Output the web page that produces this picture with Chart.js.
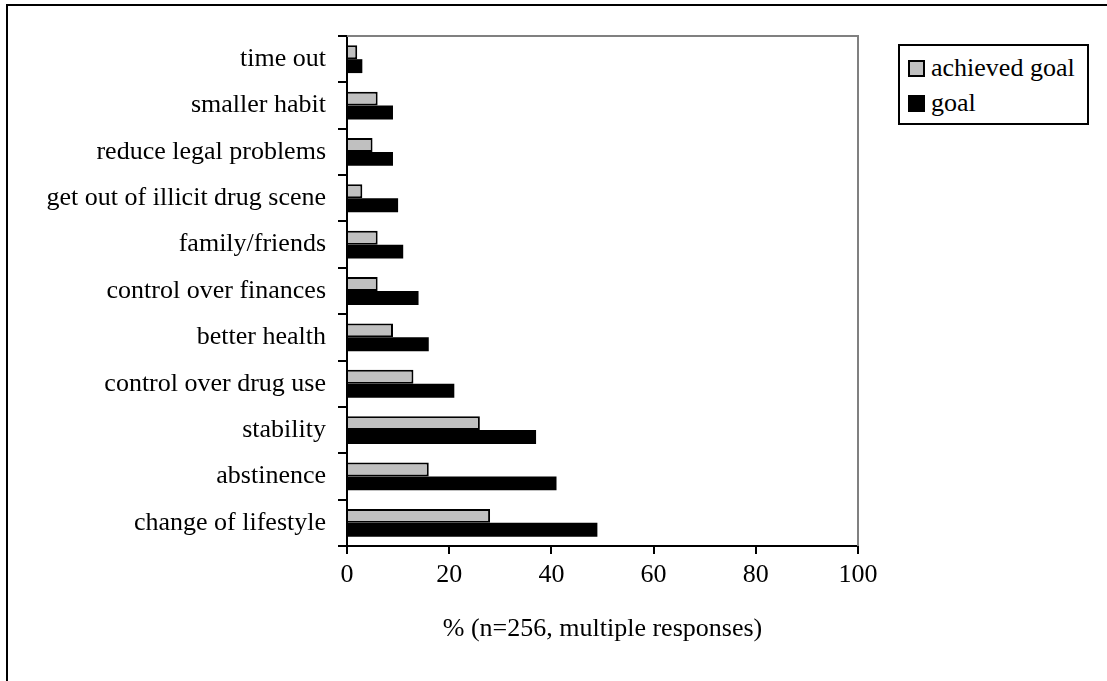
<!DOCTYPE html>
<html>
<head>
<meta charset="utf-8">
<script src="https://cdn.jsdelivr.net/npm/chart.js@4"></script>
<style>
  html, body { margin: 0; padding: 0; background: #fff; }
  #wrap { position: relative; width: 1107px; height: 681px; overflow: hidden; }
  #marco { position: absolute; left: 6px; top: 4px; width: 1200px; height: 800px;
           border-top: 2px solid #000; border-left: 2px solid #000; }
  #leyenda { position: absolute; left: 898px; top: 44px; width: 187px; height: 77px;
             border: 2px solid #000; font: 26px "Liberation Serif", "Times New Roman", serif;
             background: #fff; }
  #leyenda div { position: absolute; left: 8px; white-space: nowrap; line-height: 30px; }
  #leyenda span { display: inline-block; width: 13px; height: 13px; border: 2px solid #000;
                  margin-right: 6px; vertical-align: -1px; }
</style>
</head>
<body>
<div id="wrap">
  <div id="marco"></div>
  <canvas id="grafico" width="1107" height="681"></canvas>
  <div id="leyenda"></div>
</div>
<script>
// Metas de los pacientes (% de respuestas, n=256)
const categorias = ['time out', 'smaller habit', 'reduce legal problems',
  'get out of illicit drug scene', 'family/friends', 'control over finances',
  'better health', 'control over drug use', 'stability', 'abstinence',
  'change of lifestyle'];
const metaLograda = [2, 6, 5, 3, 6, 6, 9, 13, 26, 16, 28];
const meta = [3, 9, 9, 10, 11, 14, 16, 21, 37, 41, 49];
const marcasX = [0, 20, 40, 60, 80, 100];

const fuente = { family: '"Liberation Serif", "Times New Roman", serif', size: 26 };

// borde gris arriba y a la derecha del área del gráfico
const bordeGris = {
  id: 'bordeGris',
  beforeDatasetsDraw(chart) {
    const { ctx, chartArea: a } = chart;
    ctx.save();
    ctx.strokeStyle = '#808080';
    ctx.lineWidth = 2;
    ctx.beginPath();
    ctx.moveTo(a.left, a.top);
    ctx.lineTo(a.right, a.top);
    ctx.lineTo(a.right, a.bottom);
    ctx.stroke();
    ctx.restore();
  }
};

const datasets = [
  { label: 'achieved goal', data: metaLograda, backgroundColor: '#c0c0c0',
    borderColor: '#000', borderWidth: 2 },
  { label: 'goal', data: meta, backgroundColor: '#000', borderColor: '#000', borderWidth: 0 }
];

new Chart(document.getElementById('grafico'), {
  type: 'bar',
  data: { labels: categorias, datasets: datasets },
  plugins: [bordeGris],
  options: {
    indexAxis: 'y',
    responsive: false,
    animation: false,
    layout: { padding: { top: 36, right: 249, left: 0, bottom: 0 } },
    datasets: { bar: { categoryPercentage: 0.6, barPercentage: 1.0 } },
    plugins: { legend: { display: false }, tooltip: { enabled: false } },
    scales: {
      x: {
        min: 0, max: 100,
        afterBuildTicks: s => { s.ticks = marcasX.map(v => ({ value: v })); },
        afterFit: s => { s.height = 135; },
        grid: { drawOnChartArea: false, color: '#000', lineWidth: 2, tickLength: 8 },
        border: { color: '#000', width: 2 },
        ticks: { color: '#000', font: fuente, padding: 6, maxRotation: 0 },
        title: { display: true, text: '% (n=256, multiple responses)', color: '#000',
                 font: fuente, padding: { top: 14, bottom: 36 } }
      },
      y: {
        afterFit: s => { s.width = 347; },
        grid: { drawOnChartArea: false, color: '#000', lineWidth: 2, tickLength: 9, offset: true },
        border: { color: '#000', width: 2 },
        ticks: { color: '#000', font: fuente, padding: 12, autoSkip: false }
      }
    }
  }
});

// leyenda en HTML
const leyenda = document.getElementById('leyenda');
datasets.forEach((d, i) => {
  const fila = document.createElement('div');
  fila.style.top = (7 + i * 35) + 'px';
  const cuadro = document.createElement('span');
  cuadro.style.background = d.backgroundColor;
  fila.appendChild(cuadro);
  fila.appendChild(document.createTextNode(d.label));
  leyenda.appendChild(fila);
});
</script>
</body>
</html>
